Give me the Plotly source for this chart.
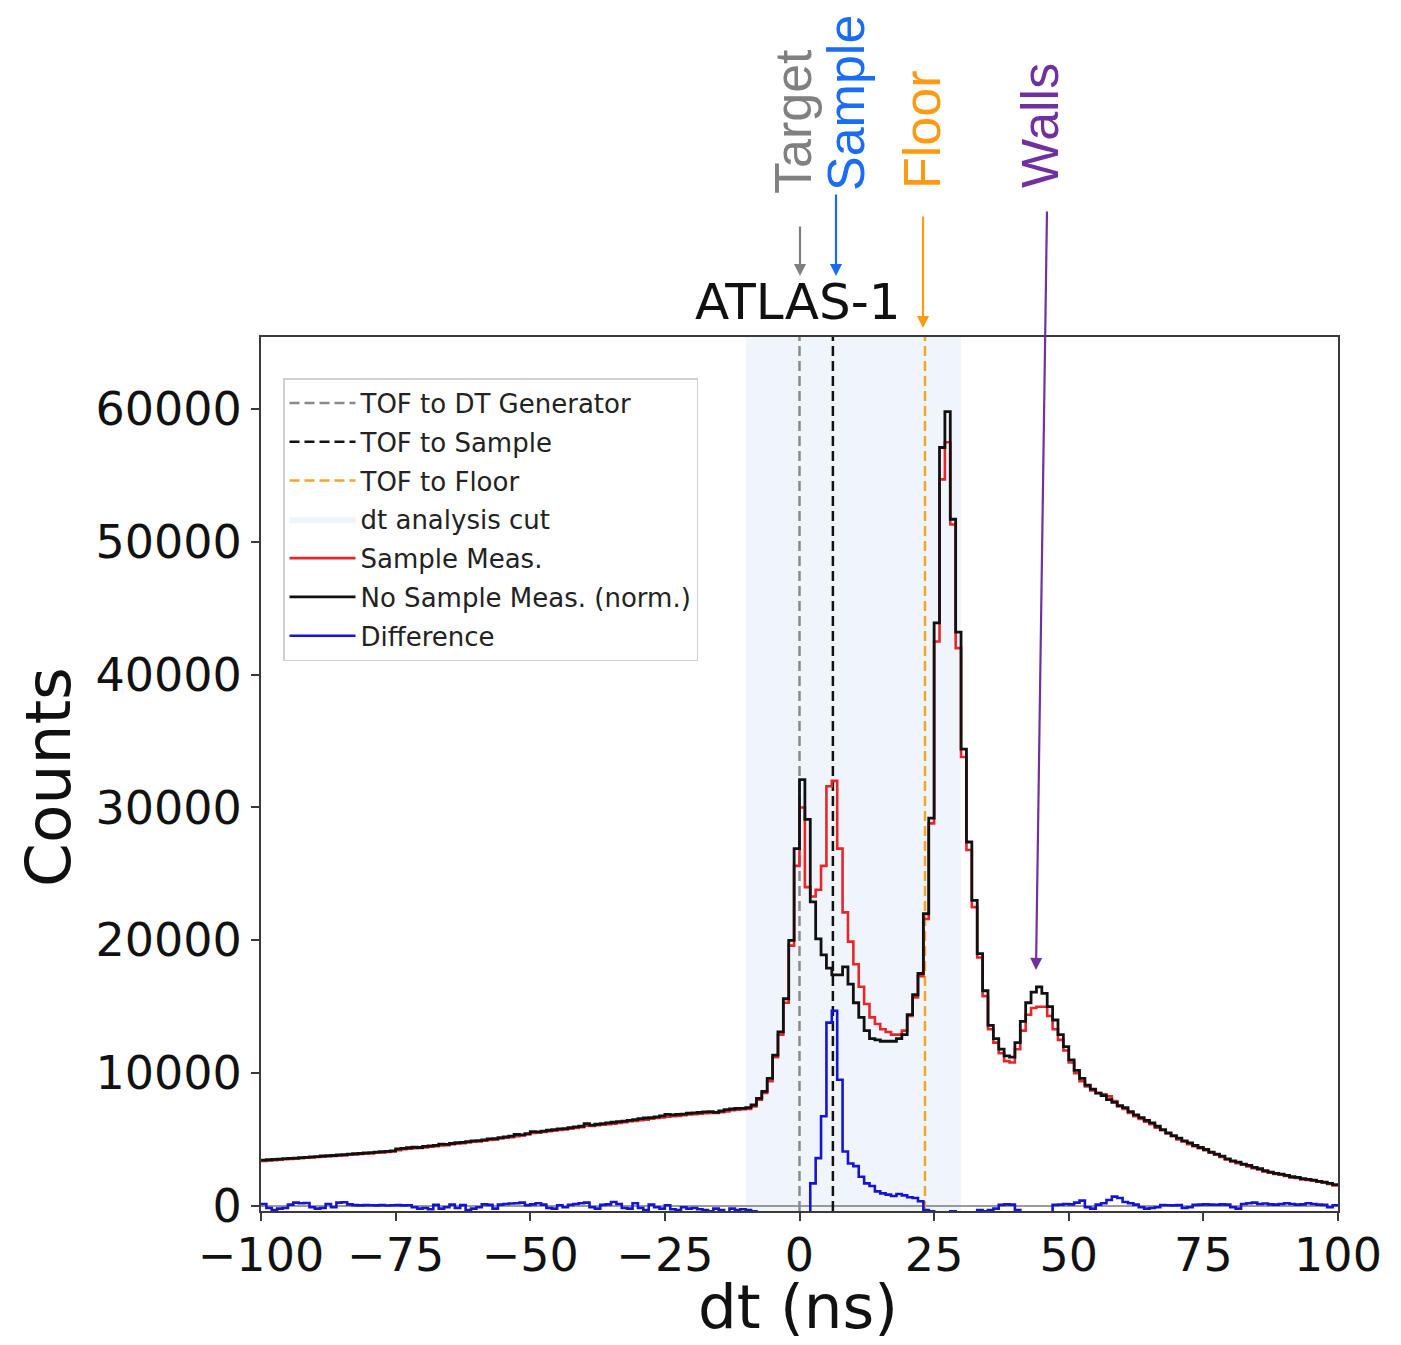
import plotly.graph_objects as go

# ---------------- data ----------------
bin_width = 1.0
bin_start = -100.0

no_sample = [
    3450, 3480, 3500, 3520, 3560, 3580, 3600, 3640, 3660, 3700,
    3720, 3760, 3780, 3800, 3840, 3860, 3900, 3930, 3950, 3990,
    4020, 4050, 4080, 4110, 4150, 4300, 4330, 4380, 4420, 4400,
    4480, 4520, 4560, 4650, 4640, 4700, 4760, 4780, 4850, 4900,
    4920, 4980, 5050, 5060, 5150, 5200, 5250, 5380, 5350, 5450,
    5600, 5580, 5640, 5700, 5750, 5800, 5820, 5900, 5950, 6000,
    6200, 6080, 6150, 6200, 6250, 6300, 6350, 6380, 6450, 6500,
    6580, 6620, 6650, 6700, 6780, 6900, 6850, 6900, 6920, 6980,
    7000, 7050, 7080, 7100, 7050, 7150, 7250, 7300, 7350, 7350,
    7400, 7600, 8100, 8630, 9600, 11360, 13100, 15600, 20000, 26900,
    32100, 29100, 22900, 20100, 18900, 17900, 17400, 17400, 18000, 16700,
    15300, 14200, 13200, 12600, 12500, 12400, 12400, 12400, 12600, 12900,
    14400, 15900, 17500, 22000, 29200, 43900, 57100, 59800, 51700, 43200,
    34400, 27400, 23000, 19000, 16200, 13600, 12600, 11800, 11300, 11200,
    12300, 13900, 15300, 16100, 16500, 16000, 15000, 14000, 12900, 12000,
    11000, 10200, 9600, 9100, 8800, 8500, 8300, 8000, 7800, 7550,
    7400, 7100, 6850, 6650, 6450, 6250, 6000, 5750, 5500, 5300,
    5100, 4900, 4750, 4550, 4400, 4250, 4050, 3900, 3750, 3550,
    3400, 3300, 3150, 3050, 2900, 2800, 2650, 2550, 2450, 2400,
    2300, 2200, 2150, 2050, 2000, 1950, 1850, 1800, 1700, 1600,
]

sample = [
    3380, 3420, 3450, 3480, 3520, 3530, 3560, 3600, 3640, 3650,
    3680, 3700, 3740, 3760, 3780, 3800, 3850, 3880, 3920, 3930,
    3960, 4000, 4030, 4060, 4100, 4200, 4280, 4310, 4350, 4360,
    4400, 4460, 4500, 4560, 4580, 4640, 4700, 4720, 4780, 4840,
    4860, 4920, 4960, 5000, 5080, 5140, 5180, 5250, 5300, 5380,
    5500, 5520, 5580, 5620, 5660, 5720, 5760, 5820, 5870, 5920,
    6050, 6020, 6080, 6120, 6160, 6200, 6250, 6300, 6380, 6400,
    6450, 6500, 6560, 6620, 6660, 6720, 6760, 6780, 6830, 6880,
    6900, 6950, 6980, 7000, 7000, 7050, 7120, 7200, 7250, 7280,
    7300, 7500, 8000, 8500, 9400, 11200, 12900, 15300, 19600, 25600,
    30000, 24000, 23300, 23800, 25600, 31600, 32000, 26900, 22100, 19900,
    18200, 16500, 15200, 14200, 13700, 13300, 13100, 12900, 12900, 13200,
    14300, 15700, 17300, 21600, 28800, 42500, 54700, 57500, 51300, 42000,
    33800, 26800, 22500, 18700, 15800, 13300, 12300, 11500, 10900, 10800,
    11800, 13200, 14400, 14900, 15000, 15000, 14300, 13300, 12500, 11700,
    10800, 10000, 9400, 9000, 8700, 8500, 8400, 8250, 7900, 7500,
    7300, 7000, 6750, 6550, 6350, 6150, 5900, 5700, 5450, 5250,
    5000, 4850, 4650, 4500, 4350, 4200, 4000, 3850, 3680, 3500,
    3350, 3220, 3100, 2980, 2850, 2750, 2600, 2500, 2400, 2350,
    2250, 2150, 2100, 2000, 1950, 1900, 1820, 1750, 1650, 1550,
]

difference = [
    150, -150, -300, -200, -150, 100, 250, 200, 220, -100,
    -200, -150, 150, -100, 250, 280, 120, 60, 40, 60,
    50, 40, 60, 30, 50, 60, 40, 50, -100, -200,
    -150, -250, 80, -200, -100, 100, -150, 60, -300, -200,
    -100, 120, 80, -200, 100, 150, 180, 200, 250, 60,
    120, 200, 100, -150, -200, 50, -100, 80, 150, 200,
    250, -100, -200, 80, 120, 300, 150, -150, -200, 200,
    -150, -300, 100, -100, -200, 50, -250, -300, -100, -200,
    -150, -250, -300, -400, -200, -300, -500, -200, -300, -250,
    -300, -400, -500, -600, -800, -1000, -1200, -1500, -1000, -1300,
    -2000, -3000, 1700, 3600, 6750, 13800, 14700, 9500, 4100, 3200,
    3000, 2200, 1700, 1500, 1100, 950, 850, 750, 900, 800,
    650, 600, 350, -300, -400, -1400, -2400, -2300, -400, -1200,
    -600, -600, -500, -300, -400, -300, -200, 80, 120, 100,
    -300, -500, -800, -1100, -1500, -1000, -700, 80, 100, 150,
    120, 250, 400, -100, -200, 100, 200, 450, 700, 600,
    300, 200, 100, -100, -200, -150, -100, 60, 50, 40,
    60, -150, -100, 80, 100, 120, 100, 90, 120, 100,
    -100, -200, 150, 200, 250, 150, 180, 120, 100, 150,
    200, 150, 100, 120, 200, 150, 100, 80, -100, 50,
]

tof_target = 0.0
tof_sample = 6.2
tof_floor = 23.3
cut_range = [-10.0, 30.0]

x_tickvals = [-100, -75, -50, -25, 0, 25, 50, 75, 100]
x_ticktext = ["\u2212100", "\u221275", "\u221250", "\u221225", "0", "25", "50", "75", "100"]
y_tickvals = [0, 10000, 20000, 30000, 40000, 50000, 60000]
y_ticktext = ["0", "10000", "20000", "30000", "40000", "50000", "60000"]

x_range = [-100, 100]
y_range = [-380, 65420]

# ---------------- figure ----------------
W, H = 1401, 1345
L, R, T, B = 261, 63, 337, 134
PW, PH = W - L - R, H - T - B


def px(xp):
    return (xp - L) / PW


def py(yp):
    return (H - B - yp) / PH


edges = [bin_start + bin_width * i for i in range(len(no_sample) + 1)]


def step(vals):
    return edges, list(vals) + [vals[-1]]


fig = go.Figure()

# analysis cut band
fig.add_trace(go.Scatter(
    x=[cut_range[0], cut_range[1], cut_range[1], cut_range[0], cut_range[0]],
    y=[y_range[0], y_range[0], y_range[1], y_range[1], y_range[0]],
    mode="lines", fill="toself", fillcolor="rgb(239,245,250)",
    line=dict(width=0, color="rgb(239,245,250)"),
    name="dt analysis cut", legendrank=4, legendgroup="g4", hoverinfo="skip"))

# zero line
fig.add_trace(go.Scatter(x=x_range, y=[0, 0], mode="lines",
                         line=dict(color="#7a7a7a", width=1.6),
                         showlegend=False, hoverinfo="skip"))

dash = "10px,5px"
fig.add_trace(go.Scatter(x=[tof_target, tof_target], y=y_range, mode="lines",
                         line=dict(color="#8a8a8a", width=2.5, dash=dash),
                         name="TOF to DT Generator", legendrank=1, legendgroup="g1"))
fig.add_trace(go.Scatter(x=[tof_sample, tof_sample], y=y_range, mode="lines",
                         line=dict(color="#111111", width=2.5, dash=dash),
                         name="TOF to Sample", legendrank=2, legendgroup="g2"))
fig.add_trace(go.Scatter(x=[tof_floor, tof_floor], y=y_range, mode="lines",
                         line=dict(color="#f2a52a", width=2.5, dash=dash),
                         name="TOF to Floor", legendrank=3, legendgroup="g3"))

xs, ys = step(sample)
fig.add_trace(go.Scatter(x=xs, y=ys, mode="lines", line_shape="hv",
                         line=dict(color="#e8262a", width=2.6),
                         name="Sample Meas.", legendrank=5, legendgroup="g5"))
xs, ys = step(no_sample)
fig.add_trace(go.Scatter(x=xs, y=ys, mode="lines", line_shape="hv",
                         line=dict(color="#111111", width=2.8),
                         name="No Sample Meas. (norm.)", legendrank=6, legendgroup="g6"))
xs, ys = step(difference)
fig.add_trace(go.Scatter(x=xs, y=ys, mode="lines", line_shape="hv",
                         line=dict(color="#1515d0", width=2.6),
                         name="Difference", legendrank=7, legendgroup="g7"))

tick_font = dict(family="DejaVu Sans", size=46, color="#111111")
fig.update_xaxes(range=x_range, tickvals=x_tickvals, ticktext=x_ticktext,
                 showgrid=False, zeroline=False, showline=True, mirror=True,
                 linecolor="#3a3a3a", linewidth=2, ticks="outside", ticklen=8,
                 tickwidth=2, tickcolor="#3a3a3a", tickfont=tick_font,
                 ticklabelstandoff=-5)
fig.update_yaxes(range=y_range, tickvals=y_tickvals, ticktext=y_ticktext,
                 showgrid=False, zeroline=False, showline=True, mirror=True,
                 linecolor="#3a3a3a", linewidth=2, ticks="outside", ticklen=8,
                 tickwidth=2, tickcolor="#3a3a3a", tickfont=tick_font)

annotations = [
    dict(text="ATLAS-1", x=px(798), y=py(302), xref="paper", yref="paper",
         showarrow=False, font=dict(family="DejaVu Sans", size=50, color="#111111"),
         xanchor="center", yanchor="middle"),
    dict(text="dt (ns)", x=px(798), y=py(1306), xref="paper", yref="paper",
         showarrow=False, font=dict(family="DejaVu Sans", size=61, color="#111111"),
         xanchor="center", yanchor="middle"),
    dict(text="Counts", x=px(48), y=py(777), xref="paper", yref="paper",
         showarrow=False, textangle=-90,
         font=dict(family="DejaVu Sans", size=63, color="#111111"),
         xanchor="center", yanchor="middle"),
]

labels = [
    ("Target", "#808080", 793, 122),
    ("Sample", "#1a6cf5", 846, 103),
    ("Floor", "#ff9a12", 922, 130),
    ("Walls", "#7030a0", 1040, 126),
]
for txt, col, xx, yy in labels:
    annotations.append(dict(text=txt, x=px(xx), y=py(yy), xref="paper", yref="paper",
                            showarrow=False, textangle=-90,
                            font=dict(family="Liberation Sans", size=52, color=col),
                            xanchor="center", yanchor="middle"))

# arrows: (head x px, head y px, tail x px, tail y px, colour)
arrows = [
    (800, 276, 800, 225, "#808080"),
    (836, 276, 836, 193, "#1a6cf5"),
    (923, 328, 923, 215, "#ff9a12"),
    (1036, 970, 1047, 210, "#7030a0"),
]
for hx, hy, tx, ty, col in arrows:
    annotations.append(dict(text="", x=px(hx), y=py(hy), xref="paper", yref="paper",
                            ax=tx - hx, ay=ty - hy, axref="pixel", ayref="pixel",
                            showarrow=True, arrowhead=2, arrowsize=1.1,
                            arrowwidth=2.2, arrowcolor=col))

fig.update_layout(
    width=W, height=H,
    margin=dict(l=L, r=R, t=T, b=B),
    paper_bgcolor="white", plot_bgcolor="white",
    annotations=annotations,
    legend=dict(x=px(283), y=py(378), xanchor="left", yanchor="top",
                bgcolor="rgba(255,255,255,0.85)", bordercolor="#d0d0d0", borderwidth=1.5,
                font=dict(family="DejaVu Sans", size=26, color="#222222"),
                traceorder="grouped", tracegroupgap=2, itemwidth=66),
    showlegend=True,
)

fig.write_html("out.html")
